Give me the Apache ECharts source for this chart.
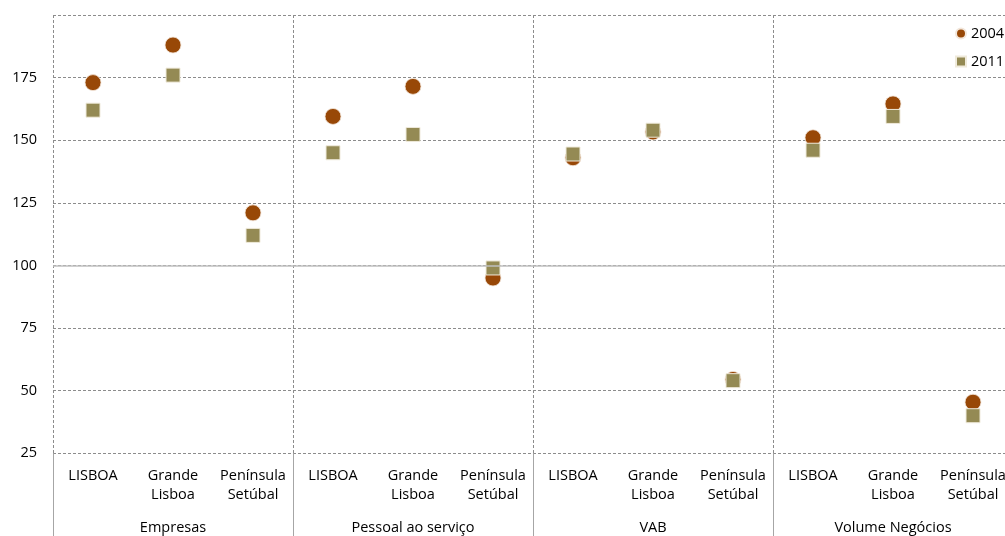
<!DOCTYPE html>
<html><head><meta charset="utf-8">
<script src="https://cdn.jsdelivr.net/npm/echarts@6/dist/echarts.min.js"></script>
<style>html,body{margin:0;padding:0;background:#fff;overflow:hidden;width:1005px;height:536px}#c{width:1013px;height:536px}</style>
</head><body><div id="c"></div>
<script>
const groups = ['Empresas', 'Pessoal ao serviço', 'VAB', 'Volume Negócios'];
const regions = ['LISBOA', 'Grande\nLisboa', 'Península\nSetúbal'];
const categories = [].concat(regions, regions, regions, regions);
const seriesNames = ['2004', '2011'];
const values2004 = [173, 188, 121, 159.5, 171.5, 95, 143, 153.3, 54.5, 151, 164.5, 45.4];
const values2011 = [162, 176, 112, 145, 152.3, 99, 144.5, 154, 54, 146, 159.5, 40];
const yMin = 25, yMax = 200, yStep = 25, refLine = 100;

const font = 'Open Sans';
const fs = 14.5;
const chart = echarts.init(document.getElementById('c'), null, {renderer: 'canvas'});
chart.setOption({
  animation: false,
  textStyle: {fontFamily: font},
  grid: {left: 53, top: 15, width: 960, height: 438.3, containLabel: false},
  legend: {
    orient: 'vertical', left: 950, top: 21, itemGap: 13, itemWidth: 10, itemHeight: 10,
    textStyle: {fontFamily: font, fontSize: fs, color: '#000'},
    data: [{name: seriesNames[0], icon: 'circle'}, {name: seriesNames[1], icon: 'rect'}]
  },
  xAxis: [{
    type: 'category', data: categories, boundaryGap: true, position: 'bottom',
    axisLine: {show: false}, axisTick: {show: false}, splitLine: {show: false},
    axisLabel: {interval: 0, margin: 13, fontFamily: font, fontSize: fs, lineHeight: 19, color: '#000'}
  }, {
    type: 'category', data: groups, boundaryGap: true, position: 'bottom',
    axisLine: {show: false},
    axisTick: {show: true, length: 90, interval: 0, lineStyle: {color: '#a6a6a6', width: 1}},
    splitLine: {show: true, interval: 0, lineStyle: {color: '#8c8c8c', type: [3, 2], width: 1}},
    axisLabel: {interval: 0, margin: 67, fontFamily: font, fontSize: fs, color: '#000'}
  }],
  yAxis: {
    type: 'value', min: yMin, max: yMax, interval: yStep,
    axisLine: {show: false}, axisTick: {show: false},
    axisLabel: {showMaxLabel: false, margin: 16, fontFamily: font, fontSize: fs, color: '#000'},
    splitLine: {show: true, lineStyle: {color: '#8c8c8c', type: [3, 2], width: 1}}
  },
  series: [{
    name: seriesNames[0], type: 'scatter', xAxisIndex: 0, data: values2004,
    symbol: 'circle', symbolSize: 16,
    itemStyle: {color: '#984807', borderColor: '#f2e6da', borderWidth: 0.8, opacity: 1},
    markLine: {
      silent: true, symbol: 'none', label: {show: false},
      lineStyle: {color: '#bfbfbf', type: 'solid', width: 1.5},
      data: [{yAxis: refLine}]
    }
  }, {
    name: seriesNames[1], type: 'scatter', xAxisIndex: 0, data: values2011,
    symbol: 'rect', symbolSize: 14,
    itemStyle: {color: '#948a54', borderColor: '#efeadb', borderWidth: 1, opacity: 1}
  }]
});
</script></body></html>
